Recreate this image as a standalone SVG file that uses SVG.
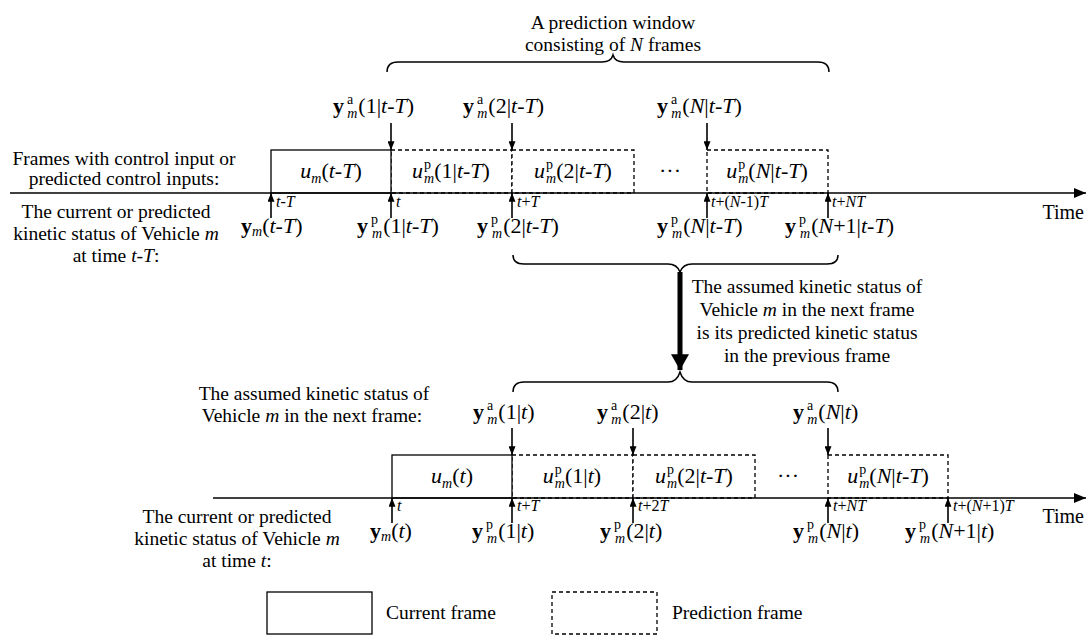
<svg xmlns="http://www.w3.org/2000/svg" width="1091" height="641" viewBox="0 0 1091 641">
<style>
text { font-family: "Liberation Serif", "Times New Roman", serif; fill: #000; }
.t { font-size: 19.5px; }
.m { font-size: 22px; }
.s { font-size: 14px; }
.tk { font-size: 16px; }
.i { font-style: italic; }
.b { font-weight: bold; }
.solid { fill: #fff; stroke: #000; stroke-width: 1.3; }
.dash { fill: #fff; stroke: #000; stroke-width: 1.3; stroke-dasharray: 4 3; }
.ln { fill: none; stroke: #000; stroke-width: 1.6; }
.brace { fill: none; stroke: #000; stroke-width: 1.5; }
</style>
<defs>
<marker id="ah" viewBox="0 0 10 8" refX="10" refY="4" markerWidth="9" markerHeight="7" markerUnits="userSpaceOnUse" orient="auto">
<path d="M0,0 L10,4 L0,8 z" fill="#000"/>
</marker>
<marker id="axh" viewBox="0 0 12 10" refX="12" refY="5" markerWidth="13" markerHeight="10" markerUnits="userSpaceOnUse" orient="auto">
<path d="M0,0 L12,5 L0,10 z" fill="#000"/>
</marker>
<marker id="big" viewBox="0 0 14 16" refX="14" refY="8" markerWidth="17" markerHeight="18" markerUnits="userSpaceOnUse" orient="auto">
<path d="M0,0 L14,8 L0,16 z" fill="#000"/>
</marker>
</defs>

<!-- Top brace and title -->
<g id="window-label">
<text class="t" x="613" y="29" text-anchor="middle">A prediction window</text>
<text class="t" x="613" y="51" text-anchor="middle">consisting of <tspan class="i">N</tspan> frames</text>
<path class="brace" d="M387,72 Q387,62 398,62 L602,62 Q611,62 613,55 Q615,62 624,62 L818,62 Q829,62 829,72"/>
</g>

<!-- Upper timeline left labels -->
<g id="upper-left-labels">
<text class="t" x="124" y="165" text-anchor="middle">Frames with control input or</text>
<text class="t" x="124" y="185" text-anchor="middle">predicted control inputs:</text>
<text class="t" x="116" y="218" text-anchor="middle">The current or predicted</text>
<text class="t" x="116" y="240" text-anchor="middle">kinetic status of Vehicle <tspan class="i">m</tspan></text>
<text class="t" x="116" y="262" text-anchor="middle">at time <tspan class="i">t</tspan>-<tspan class="i">T</tspan>:</text>
</g>

<!-- Upper frames -->
<g id="upper-frames">
<rect class="dash" x="391" y="150" width="121" height="43"/>
<rect class="dash" x="512" y="150" width="122" height="43"/>
<rect class="dash" x="707" y="150" width="121" height="43"/>
<rect class="solid" x="271" y="150" width="120" height="43"/>
<text class="m" x="331" y="178" text-anchor="middle"><tspan class="i">u</tspan><tspan class="s i" dy="5">m</tspan><tspan dy="-5">(</tspan><tspan class="i">t</tspan>-<tspan class="i">T</tspan>)</text>
<text class="m" x="451" y="178" text-anchor="middle"><tspan class="i">u</tspan><tspan class="s" dx="1" dy="-9">p</tspan><tspan class="s i" dx="-7" dy="14">m</tspan><tspan dy="-5">(1|</tspan><tspan class="i">t</tspan>-<tspan class="i">T</tspan>)</text>
<text class="m" x="573" y="178" text-anchor="middle"><tspan class="i">u</tspan><tspan class="s" dx="1" dy="-9">p</tspan><tspan class="s i" dx="-7" dy="14">m</tspan><tspan dy="-5">(2|</tspan><tspan class="i">t</tspan>-<tspan class="i">T</tspan>)</text>
<text class="m" x="670" y="178" text-anchor="middle">···</text>
<text class="m" x="767" y="178" text-anchor="middle"><tspan class="i">u</tspan><tspan class="s" dx="1" dy="-9">p</tspan><tspan class="s i" dx="-7" dy="14">m</tspan><tspan dy="-5">(</tspan><tspan class="i">N</tspan>|<tspan class="i">t</tspan>-<tspan class="i">T</tspan>)</text>
</g>

<!-- Upper assumed status labels -->
<g id="upper-assumed">
<text class="m" x="333" y="113"><tspan class="b">y</tspan><tspan class="s" dx="3" dy="-9">a</tspan><tspan class="s i" dx="-6" dy="14">m</tspan><tspan dy="-5" dx="1">(1|</tspan><tspan class="i">t</tspan>-<tspan class="i">T</tspan>)</text>
<text class="m" x="463" y="113"><tspan class="b">y</tspan><tspan class="s" dx="3" dy="-9">a</tspan><tspan class="s i" dx="-6" dy="14">m</tspan><tspan dy="-5" dx="1">(2|</tspan><tspan class="i">t</tspan>-<tspan class="i">T</tspan>)</text>
<text class="m" x="657" y="113"><tspan class="b">y</tspan><tspan class="s" dx="3" dy="-9">a</tspan><tspan class="s i" dx="-6" dy="14">m</tspan><tspan dy="-5" dx="1">(</tspan><tspan class="i">N</tspan>|<tspan class="i">t</tspan>-<tspan class="i">T</tspan>)</text>
</g>

<!-- Upper tick labels -->
<g id="upper-ticks">
<text class="tk" x="276" y="207"><tspan class="i">t</tspan>-<tspan class="i">T</tspan></text>
<text class="tk" x="396" y="207"><tspan class="i">t</tspan></text>
<text class="tk" x="517" y="207"><tspan class="i">t</tspan>+<tspan class="i">T</tspan></text>
<text class="tk" x="711" y="207"><tspan class="i">t</tspan>+(<tspan class="i">N</tspan>-1)<tspan class="i">T</tspan></text>
<text class="tk" x="832" y="207"><tspan class="i">t</tspan>+<tspan class="i">NT</tspan></text>
<text class="t" x="1084" y="219" text-anchor="end" style="font-size:20px">Time</text>
</g>

<!-- Upper current/predicted status labels -->
<g id="upper-status">
<text class="m" x="241" y="233"><tspan class="b">y</tspan><tspan class="s i" dy="3">m</tspan><tspan dy="-3">(</tspan><tspan class="i">t</tspan>-<tspan class="i">T</tspan>)</text>
<text class="m" x="357" y="233"><tspan class="b">y</tspan><tspan class="s" dx="3" dy="-9">p</tspan><tspan class="s i" dx="-6" dy="14">m</tspan><tspan dy="-5" dx="1">(1|</tspan><tspan class="i">t</tspan>-<tspan class="i">T</tspan>)</text>
<text class="m" x="477" y="233"><tspan class="b">y</tspan><tspan class="s" dx="3" dy="-9">p</tspan><tspan class="s i" dx="-6" dy="14">m</tspan><tspan dy="-5" dx="1">(2|</tspan><tspan class="i">t</tspan>-<tspan class="i">T</tspan>)</text>
<text class="m" x="657" y="233"><tspan class="b">y</tspan><tspan class="s" dx="3" dy="-9">p</tspan><tspan class="s i" dx="-6" dy="14">m</tspan><tspan dy="-5" dx="1">(</tspan><tspan class="i">N</tspan>|<tspan class="i">t</tspan>-<tspan class="i">T</tspan>)</text>
<text class="m" x="785" y="233"><tspan class="b">y</tspan><tspan class="s" dx="3" dy="-9">p</tspan><tspan class="s i" dx="-6" dy="14">m</tspan><tspan dy="-5" dx="1">(</tspan><tspan class="i">N</tspan>+1|<tspan class="i">t</tspan>-<tspan class="i">T</tspan>)</text>
</g>

<!-- Middle brace, explanation -->
<g id="transfer">
<path class="brace" d="M513,255 Q513,264 524,264 L668,264 Q677,264 680,272 Q683,264 692,264 L827,264 Q838,264 838,255"/>
<text class="t" x="807" y="293" text-anchor="middle">The assumed kinetic status of</text>
<text class="t" x="807" y="316" text-anchor="middle">Vehicle <tspan class="i">m</tspan> in the next frame</text>
<text class="t" x="807" y="339" text-anchor="middle">is its predicted kinetic status</text>
<text class="t" x="807" y="362" text-anchor="middle">in the previous frame</text>
<path class="brace" d="M513,392 Q513,382 524,382 L668,382 Q677,382 680,372 Q683,382 692,382 L827,382 Q838,382 838,392"/>
</g>

<!-- Lower left labels -->
<g id="lower-left-labels">
<text class="t" x="314" y="400" text-anchor="middle">The assumed kinetic status of</text>
<text class="t" x="312" y="422" text-anchor="middle">Vehicle <tspan class="i">m</tspan> in the next frame:</text>
<text class="t" x="237" y="523" text-anchor="middle">The current or predicted</text>
<text class="t" x="237" y="545" text-anchor="middle">kinetic status of Vehicle <tspan class="i">m</tspan></text>
<text class="t" x="237" y="567" text-anchor="middle">at time <tspan class="i">t</tspan>:</text>
</g>

<!-- Lower frames -->
<g id="lower-frames">
<rect class="dash" x="512" y="455" width="121" height="43"/>
<rect class="dash" x="633" y="455" width="122" height="43"/>
<rect class="dash" x="828" y="455" width="120" height="43"/>
<rect class="solid" x="392" y="455" width="120" height="43"/>
<text class="m" x="452" y="483" text-anchor="middle"><tspan class="i">u</tspan><tspan class="s i" dy="5">m</tspan><tspan dy="-5">(</tspan><tspan class="i">t</tspan>)</text>
<text class="m" x="572" y="483" text-anchor="middle"><tspan class="i">u</tspan><tspan class="s" dx="1" dy="-9">p</tspan><tspan class="s i" dx="-7" dy="14">m</tspan><tspan dy="-5">(1|</tspan><tspan class="i">t</tspan>)</text>
<text class="m" x="694" y="483" text-anchor="middle"><tspan class="i">u</tspan><tspan class="s" dx="1" dy="-9">p</tspan><tspan class="s i" dx="-7" dy="14">m</tspan><tspan dy="-5">(2|</tspan><tspan class="i">t</tspan>-<tspan class="i">T</tspan>)</text>
<text class="m" x="788" y="483" text-anchor="middle">···</text>
<text class="m" x="888" y="483" text-anchor="middle"><tspan class="i">u</tspan><tspan class="s" dx="1" dy="-9">p</tspan><tspan class="s i" dx="-7" dy="14">m</tspan><tspan dy="-5">(</tspan><tspan class="i">N</tspan>|<tspan class="i">t</tspan>-<tspan class="i">T</tspan>)</text>
</g>

<!-- Lower assumed status labels -->
<g id="lower-assumed">
<text class="m" x="473" y="419"><tspan class="b">y</tspan><tspan class="s" dx="3" dy="-9">a</tspan><tspan class="s i" dx="-6" dy="14">m</tspan><tspan dy="-5" dx="1">(1|</tspan><tspan class="i">t</tspan>)</text>
<text class="m" x="597" y="419"><tspan class="b">y</tspan><tspan class="s" dx="3" dy="-9">a</tspan><tspan class="s i" dx="-6" dy="14">m</tspan><tspan dy="-5" dx="1">(2|</tspan><tspan class="i">t</tspan>)</text>
<text class="m" x="793" y="419"><tspan class="b">y</tspan><tspan class="s" dx="3" dy="-9">a</tspan><tspan class="s i" dx="-6" dy="14">m</tspan><tspan dy="-5" dx="1">(</tspan><tspan class="i">N</tspan>|<tspan class="i">t</tspan>)</text>
</g>

<!-- Lower tick labels -->
<g id="lower-ticks">
<text class="tk" x="397" y="511"><tspan class="i">t</tspan></text>
<text class="tk" x="517" y="511"><tspan class="i">t</tspan>+<tspan class="i">T</tspan></text>
<text class="tk" x="638" y="511"><tspan class="i">t</tspan>+2<tspan class="i">T</tspan></text>
<text class="tk" x="833" y="511"><tspan class="i">t</tspan>+<tspan class="i">NT</tspan></text>
<text class="tk" x="953" y="511"><tspan class="i">t</tspan>+(<tspan class="i">N</tspan>+1)<tspan class="i">T</tspan></text>
<text class="t" x="1084" y="523" text-anchor="end" style="font-size:20px">Time</text>
</g>

<!-- Lower current/predicted status labels -->
<g id="lower-status">
<text class="m" x="370" y="538"><tspan class="b">y</tspan><tspan class="s i" dy="3">m</tspan><tspan dy="-3">(</tspan><tspan class="i">t</tspan>)</text>
<text class="m" x="472" y="538"><tspan class="b">y</tspan><tspan class="s" dx="3" dy="-9">p</tspan><tspan class="s i" dx="-6" dy="14">m</tspan><tspan dy="-5" dx="1">(1|</tspan><tspan class="i">t</tspan>)</text>
<text class="m" x="600" y="538"><tspan class="b">y</tspan><tspan class="s" dx="3" dy="-9">p</tspan><tspan class="s i" dx="-6" dy="14">m</tspan><tspan dy="-5" dx="1">(2|</tspan><tspan class="i">t</tspan>)</text>
<text class="m" x="793" y="538"><tspan class="b">y</tspan><tspan class="s" dx="3" dy="-9">p</tspan><tspan class="s i" dx="-6" dy="14">m</tspan><tspan dy="-5" dx="1">(</tspan><tspan class="i">N</tspan>|<tspan class="i">t</tspan>)</text>
<text class="m" x="905" y="538"><tspan class="b">y</tspan><tspan class="s" dx="3" dy="-9">p</tspan><tspan class="s i" dx="-6" dy="14">m</tspan><tspan dy="-5" dx="1">(</tspan><tspan class="i">N</tspan>+1|<tspan class="i">t</tspan>)</text>
</g>

<!-- Connectors -->
<g id="connectors">
<path class="ln" d="M10,193 H1086" marker-end="url(#axh)"/>
<path class="ln" d="M213,498 H1086" marker-end="url(#axh)"/>
<path class="ln" d="M271,218 V193" marker-end="url(#ah)"/>
<path class="ln" d="M391,218 V193" marker-end="url(#ah)"/>
<path class="ln" d="M512,218 V193" marker-end="url(#ah)"/>
<path class="ln" d="M707,218 V193" marker-end="url(#ah)"/>
<path class="ln" d="M828,218 V193" marker-end="url(#ah)"/>
<path class="ln" d="M391,123 V150" marker-end="url(#ah)"/>
<path class="ln" d="M512,123 V150" marker-end="url(#ah)"/>
<path class="ln" d="M707,123 V150" marker-end="url(#ah)"/>
<path class="ln" d="M392,523 V498" marker-end="url(#ah)"/>
<path class="ln" d="M512,523 V498" marker-end="url(#ah)"/>
<path class="ln" d="M633,523 V498" marker-end="url(#ah)"/>
<path class="ln" d="M828,523 V498" marker-end="url(#ah)"/>
<path class="ln" d="M948,523 V498" marker-end="url(#ah)"/>
<path class="ln" d="M512,428 V455" marker-end="url(#ah)"/>
<path class="ln" d="M633,428 V455" marker-end="url(#ah)"/>
<path class="ln" d="M828,428 V455" marker-end="url(#ah)"/>
<path d="M680,272 V370" fill="none" stroke="#000" stroke-width="5" marker-end="url(#big)"/>
</g>

<!-- Legend -->
<g id="legend">
<rect class="solid" x="267" y="592" width="105" height="42"/>
<text class="t" x="386" y="619">Current frame</text>
<rect class="dash" x="552" y="592" width="105" height="42"/>
<text class="t" x="672" y="619">Prediction frame</text>
</g>
</svg>
